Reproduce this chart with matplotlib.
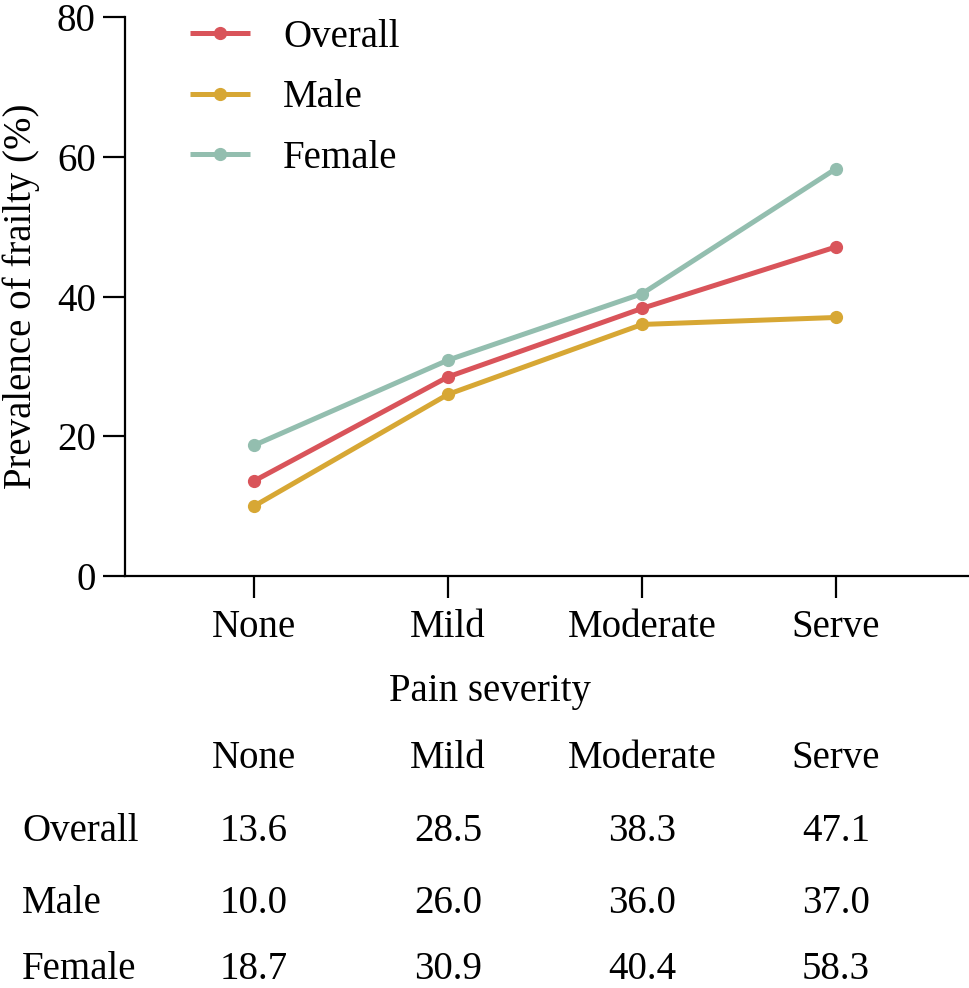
import matplotlib
matplotlib.use("Agg")
import matplotlib.pyplot as plt
import matplotlib.transforms as mtransforms

plt.rcParams['font.family'] = ['Liberation Serif', 'DejaVu Serif']

# datos
severidad = ['None', 'Mild', 'Moderate', 'Serve']
grupos = ['Overall', 'Male', 'Female']
overall = [13.6, 28.5, 38.3, 47.1]
male = [10.0, 26.0, 36.0, 37.0]
female = [18.7, 30.9, 40.4, 58.3]
colores = ['#D9545A', '#D7A734', '#93BEAF']
yticks = [0, 20, 40, 60, 80]

fig = plt.figure(figsize=(9.7, 9.88), dpi=100)
ax = fig.add_axes([125/970, (988-576)/988, 845/970, 559/988])

x = list(range(len(severidad)))
for serie, nombre, color in zip([overall, male, female], grupos, colores):
    ax.plot(x, serie, color=color, lw=3.6, marker='o', ms=8.5, label=nombre,
            solid_capstyle='butt')

ax.set_xlim(-0.665, 3.69)
ax.set_ylim(0, 80)
ax.set_yticks(yticks)
ax.set_xticks(x)
ax.set_xticklabels(severidad)
ax.tick_params(axis='both', labelsize=28, width=1.6, length=16, color='black')
ax.tick_params(axis='y', pad=5)
ax.tick_params(axis='x', pad=8)
for lado in ['top', 'right']:
    ax.spines[lado].set_visible(False)
for lado in ['left', 'bottom']:
    ax.spines[lado].set_linewidth(1.6)

ax.set_ylabel('Prevalence of frailty (%)', fontsize=28, labelpad=12)

leg = ax.legend(loc='upper left', bbox_to_anchor=(0.0355, 1.059), frameon=False,
                fontsize=28, handlelength=1.55, handletextpad=0.85, labelspacing=0.6)

fig.text(490/970, 1 - 692/988, 'Pain severity', fontsize=28, ha='center', va='center')

# tabla de valores (posiciones de la linea base en pixeles)
trans = mtransforms.blended_transform_factory(ax.transData, fig.transFigure)
filas_y = [768, 841, 913, 979]
for xi, etiqueta in zip(x, severidad):
    ax.text(xi, 1 - filas_y[0]/988, etiqueta, transform=trans, fontsize=28,
            ha='center', va='baseline', clip_on=False)
for fy, nombre, serie in zip(filas_y[1:], grupos, [overall, male, female]):
    fig.text(22/970, 1 - fy/988, nombre, fontsize=28, ha='left', va='baseline')
    for xi, v in zip(x, serie):
        ax.text(xi, 1 - fy/988, f'{v:.1f}', transform=trans, fontsize=28,
                ha='center', va='baseline', clip_on=False)

fig.savefig('out.png', dpi=100)
